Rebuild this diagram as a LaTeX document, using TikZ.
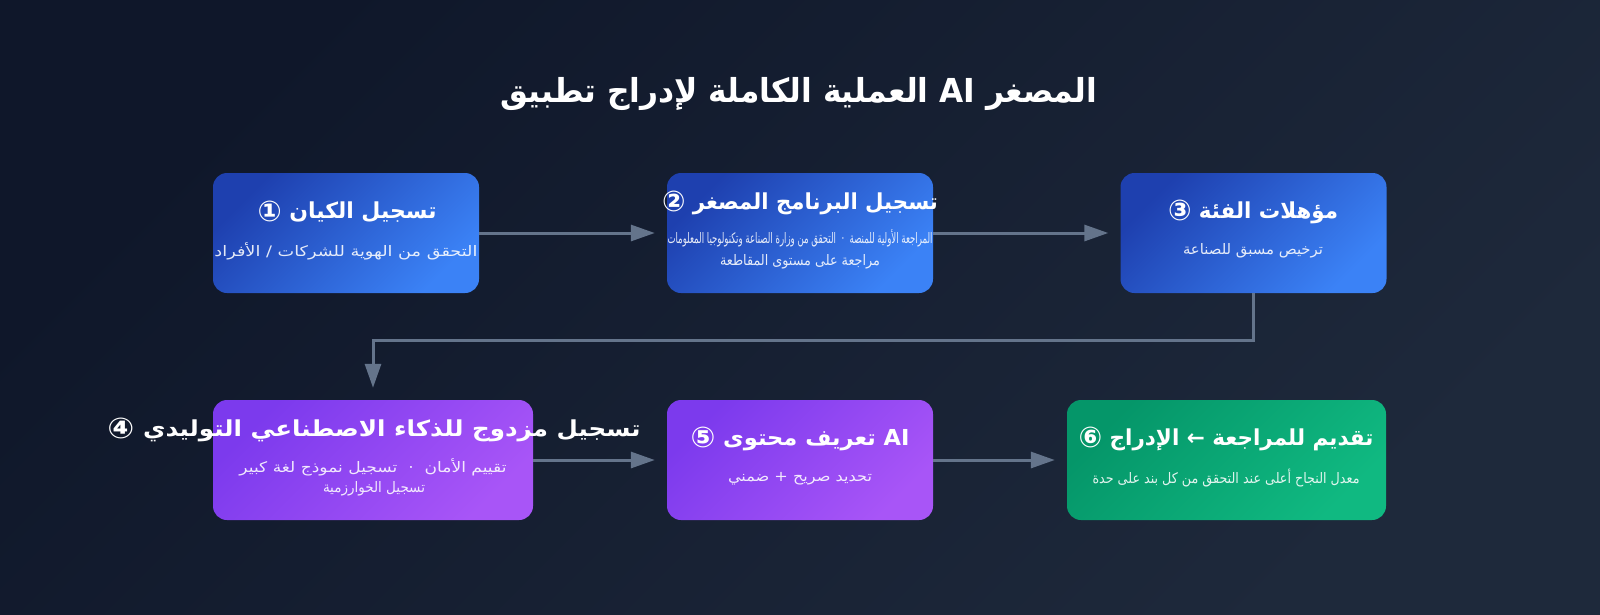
\documentclass[tikz,border=0pt]{standalone}
\usepackage{fontspec}
\usepackage{graphicx}
\setmainfont{DejaVu Sans}
\newfontfamily\arabicfont[Script=Arabic]{DejaVu Sans}
\TeXXeTstate=1
\usetikzlibrary{arrows.meta}
\definecolor{bgA}{HTML}{0F172A}
\definecolor{bgB}{HTML}{1E293B}
\definecolor{blueA}{HTML}{1E40AF}
\definecolor{blueB}{HTML}{3B82F6}
\definecolor{purA}{HTML}{7C3AED}
\definecolor{purB}{HTML}{A855F7}
\definecolor{grnA}{HTML}{059669}
\definecolor{grnB}{HTML}{10B981}
\definecolor{connc}{HTML}{64748B}
\newcommand\fitw[2]{\resizebox{#1pt}{\height}{#2}}
\newcommand\cnum[1]{\raisebox{-0.12em}{\scalebox{1.3}{#1}}}
\begin{document}
\begin{tikzpicture}[x=1pt,y=-1pt,
  box/.style={rounded corners=14pt, minimum height=120pt, inner sep=0pt},
  bluebox/.style={box, minimum width=266pt, top color=blueA, bottom color=blueB, shading angle=45},
  purbox/.style={box, top color=purA, bottom color=purB, shading angle=45},
  grnbox/.style={box, top color=grnA, bottom color=grnB, shading angle=45},
  ttl/.style={text=white, font=\fontsize{22}{26}\selectfont\bfseries\arabicfont, inner sep=0pt},
  sub/.style={text=white, text opacity=0.88, font=\fontsize{14.5}{17}\selectfont\arabicfont, inner sep=0pt},
  conn/.style={draw=connc, line width=3pt, -{Triangle[length=24pt,width=16pt]}}
]
\useasboundingbox (0,0) rectangle (1600,614);
\shade[top color=bgA, bottom color=bgB, shading angle=45] (0,0) rectangle (1600,614);

% title
\node[text=white, font=\fontsize{33}{38}\selectfont\bfseries\arabicfont, inner sep=0pt] (title) at (799,94)
  {\fitw{597}{\beginR العملية الكاملة لإدراج تطبيق\endR{} AI \beginR المصغر\endR}};

% boxes
\node[bluebox] (b1) at (346,233) {};
\node[bluebox] (b2) at (800,233) {};
\node[bluebox] (b3) at (1253.5,233) {};
\node[purbox, minimum width=320pt] (b4) at (373,460) {};
\node[purbox, minimum width=266pt] (b5) at (800,460) {};
\node[grnbox, minimum width=319pt] (b6) at (1226.5,460) {};

% connectors
\draw[conn] (b1.east) -- ([xshift=-12pt]b2.west);
\draw[conn] (b2.east) -- ([xshift=-12pt]b3.west);
\draw[conn] (b3.south) -- ++(0,47) -| ([yshift=12pt]b4.north);
\draw[conn] (b4.east) -- ([xshift=-12pt]b5.west);
\draw[conn] (b5.east) -- ([xshift=-12pt]b6.west);

% texts box 1
\node[ttl] (t1) at (347,212) {\fitw{179}{\cnum{①} \beginR تسجيل الكيان\endR}};
\node[sub] (s1) at (346,251) {\fitw{263}{\beginR التحقق من الهوية للشركات / الأفراد\endR}};
% box 2
\node[ttl] (t2) at (800,203) {\fitw{276}{\cnum{②} \beginR تسجيل البرنامج المصغر\endR}};
\node[sub] (s2a) at (800,238) {\fitw{265}{\beginR المراجعة الأولية للمنصة ~·~ التحقق من وزارة الصناعة وتكنولوجيا المعلومات\endR}};
\node[sub] (s2b) at (800,262) {\fitw{160}{\beginR مراجعة على مستوى المقاطعة\endR}};
% box 3
\node[ttl] (t3) at (1253,212) {\fitw{170}{\cnum{③} \beginR مؤهلات الفئة\endR}};
\node[sub] (s3) at (1253,251) {\fitw{140}{\beginR ترخيص مسبق للصناعة\endR}};
% box 4
\node[ttl] (t4) at (374,430) {\fitw{533}{\cnum{④} \beginR تسجيل مزدوج للذكاء الاصطناعي التوليدي\endR}};
\node[sub] (s4a) at (373,467) {\fitw{267}{\beginR تقييم الأمان ~·~ تسجيل نموذج لغة كبير\endR}};
\node[sub] (s4b) at (374,489) {\fitw{102}{\beginR تسجيل الخوارزمية\endR}};
% box 5
\node[ttl] (t5) at (800,439) {\fitw{219}{\cnum{⑤} \beginR تعريف محتوى\endR{} AI}};
\node[sub] (s5) at (800,479) {\fitw{144}{\beginR تحديد صريح + ضمني\endR}};
% box 6
\node[ttl] (t6) at (1226,439) {\fitw{295}{\cnum{⑥} \beginR تقديم للمراجعة ← الإدراج\endR}};
\node[sub] (s6) at (1226,478) {\fitw{267}{\beginR معدل النجاح أعلى عند التحقق من كل بند على حدة\endR}};
\end{tikzpicture}
\end{document}
